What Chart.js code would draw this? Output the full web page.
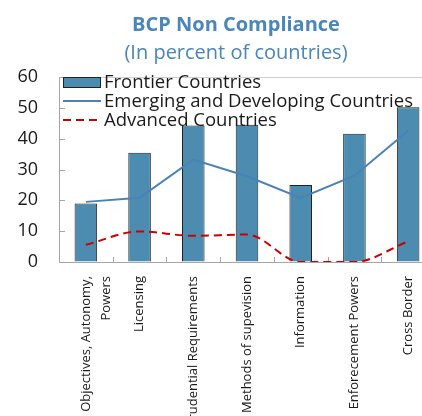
<!DOCTYPE html>
<html>
<head>
<meta charset="utf-8">
<script src="https://cdn.jsdelivr.net/npm/chart.js@4"></script>
<style>
  html, body { margin: 0; padding: 0; background: #fff; }
  #wrap { width: 422px; height: 416px; overflow: hidden; position: relative; }
  #box { width: 472px; height: 416px; }
</style>
</head>
<body>
<div id="wrap"><div id="box"><canvas id="chart"></canvas></div></div>
<script>
// Data
const categories = [
  ["Objectives, Autonomy,", "Powers"],
  "Licensing",
  "Prudential Requirements",
  "Methods of supevision",
  "Information",
  "Enforecement Powers",
  "Cross Border"
];
const frontier = [19, 35.4, 44.3, 44.5, 25, 41.6, 50.2];
const emerging = [19.5, 20.8, 33.2, 27.8, 20.8, 28, 42.6];
const advanced = [5.6, 9.9, 8.5, 8.9, 0, 0, 6.7];
const yTicks = [0, 10, 20, 30, 40, 50, 60];

const blue = "#4b8cb0";
const lineBlue = "#4a82b8";
const red = "#cc0000";
const axisGray = "#a6a6a6";
const mainFont = "'Open Sans', 'DejaVu Sans', sans-serif";

// legend drawn inside the plot, top left
const innerLegend = {
  id: "innerLegend",
  afterDatasetsDraw(chart) {
    const ctx = chart.ctx;
    const area = chart.chartArea;
    const x = area.left + 4;
    const y0 = area.top + 5;
    ctx.save();
    ctx.font = "18.5px " + mainFont;
    ctx.textBaseline = "middle";
    chart.data.datasets.forEach((ds, i) => {
      const y = y0 + i * 19;
      if (ds.type === "bar") {
        ctx.fillStyle = ds.backgroundColor;
        ctx.fillRect(x, y - 5, 37, 10);
        ctx.strokeStyle = "#222";
        ctx.lineWidth = 1;
        ctx.strokeRect(x + 0.5, y - 4.5, 37, 10);
      } else {
        ctx.strokeStyle = ds.borderColor;
        ctx.lineWidth = 2;
        ctx.setLineDash(ds.borderDash || []);
        ctx.beginPath();
        ctx.moveTo(x, y);
        ctx.lineTo(x + 38, y);
        ctx.stroke();
        ctx.setLineDash([]);
      }
      ctx.fillStyle = "#1a1a1a";
      ctx.fillText(ds.label, x + 41, y + 1);
    });
    ctx.restore();
  }
};

// short tick marks pointing into the plot
const innerTicks = {
  id: "innerTicks",
  beforeDatasetsDraw(chart) {
    const ctx = chart.ctx;
    const area = chart.chartArea;
    const xs = chart.scales.x;
    const ys = chart.scales.y;
    ctx.save();
    ctx.strokeStyle = axisGray;
    ctx.lineWidth = 1;
    ctx.beginPath();
    yTicks.forEach(v => {
      const py = Math.round(ys.getPixelForValue(v)) + 0.5;
      ctx.moveTo(area.left, py);
      ctx.lineTo(area.left + 6, py);
    });
    for (let i = 1; i < categories.length; i++) {
      const px = Math.round((xs.getPixelForValue(i - 1) + xs.getPixelForValue(i)) / 2) + 0.5;
      ctx.moveTo(px, area.bottom);
      ctx.lineTo(px, area.bottom - 5);
    }
    ctx.stroke();
    ctx.restore();
  }
};

new Chart(document.getElementById("chart"), {
  data: {
    labels: categories,
    datasets: [
      {
        type: "bar",
        label: "Frontier Countries",
        data: frontier,
        backgroundColor: blue,
        borderColor: "#222",
        borderWidth: 1,
        barPercentage: 0.42,
        categoryPercentage: 1,
        order: 3
      },
      {
        type: "line",
        label: "Emerging and Developing Countries",
        data: emerging,
        borderColor: lineBlue,
        borderWidth: 2,
        pointRadius: 0,
        tension: 0,
        fill: false,
        order: 2
      },
      {
        type: "line",
        label: "Advanced Countries",
        data: advanced,
        borderColor: red,
        borderWidth: 2,
        borderDash: [8, 5],
        pointRadius: 0,
        cubicInterpolationMode: "monotone",
        fill: false,
        order: 1
      }
    ]
  },
  options: {
    responsive: true,
    maintainAspectRatio: false,
    animation: false,
    plugins: {
      legend: { display: false },
      tooltip: { enabled: false },
      title: {
        display: true,
        text: "BCP Non Compliance",
        color: "#4a86b8",
        font: { family: mainFont, size: 20, weight: "bold" },
        padding: { top: 13, bottom: 4 }
      },
      subtitle: {
        display: true,
        text: "(In percent of countries)",
        color: "#4a86b8",
        font: { family: mainFont, size: 20 },
        padding: { top: 0, bottom: 12 }
      }
    },
    scales: {
      x: {
        offset: true,
        grid: { display: false },
        border: { color: axisGray, width: 1 },
        ticks: {
          color: "#1a1a1a",
          font: { family: mainFont, size: 13, lineHeight: 1.55 },
          minRotation: 90,
          maxRotation: 90,
          autoSkip: false,
          padding: 6
        },
        afterFit(scale) { scale.height = 154; }
      },
      y: {
        min: 0,
        max: 60,
        afterBuildTicks(scale) { scale.ticks = yTicks.map(v => ({ value: v })); },
        grid: {
          drawTicks: false,
          color: ctx => (ctx.tick && ctx.tick.value === 60 ? "#d0d0d0" : "rgba(0,0,0,0)")
        },
        border: { color: axisGray, width: 1 },
        ticks: {
          color: "#1a1a1a",
          font: { family: mainFont, size: 18 },
          padding: 21
        },
        afterFit(scale) { scale.width = 59; }
      },
      // empty right-hand axis, only to keep room on the right like the original
      spare: {
        type: "linear",
        position: "right",
        grid: { display: false },
        border: { display: false },
        ticks: { display: false },
        afterFit(scale) { scale.width = 37; }
      }
    }
  },
  plugins: [innerLegend, innerTicks]
});
</script>
</body>
</html>
